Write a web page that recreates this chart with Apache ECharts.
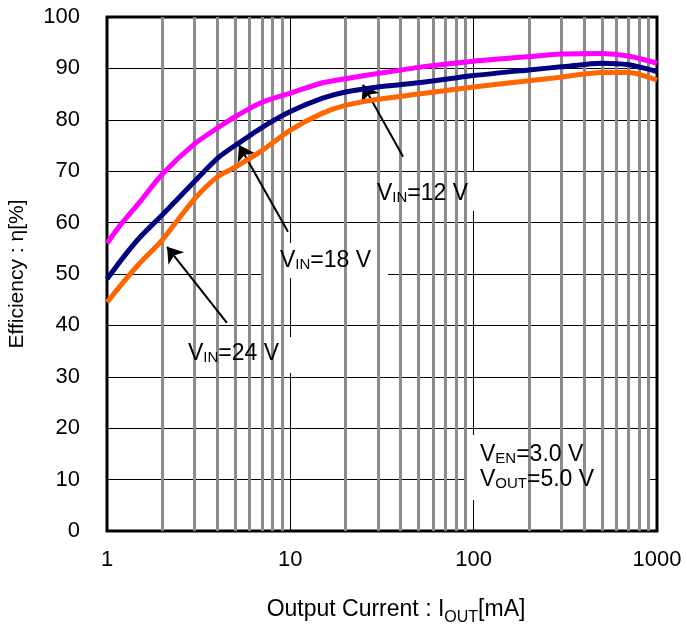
<!DOCTYPE html>
<html lang="en">
<head>
    <meta charset="UTF-8">
    <title>Efficiency vs Output Current</title>
    <script src="https://cdn.jsdelivr.net/npm/echarts@6/dist/echarts.min.js"></script>
    <style>
        html, body { margin: 0; padding: 0; background: #fff; }
    </style>
</head>
<body>
    <div id="main" style="width:687px; height:632px"></div>
    <script type="text/javascript">
        // output current [mA]
        var current = [1, 1.2, 1.5, 2, 3, 4, 5, 7, 10, 15, 20, 30, 50, 100, 200, 300, 500, 700, 1000];
        // efficiency [%]
        var eff12 = [56, 59.8, 63.9, 69.4, 75.3, 78.4, 80.6, 83.4, 85.2, 87.2, 88.0, 89.0, 90.2, 91.4, 92.3, 92.8, 92.9, 92.4, 91.0];
        var eff18 = [49, 52.8, 57, 61.5, 68, 72.5, 75, 78.5, 81.6, 84.2, 85.4, 86.4, 87.2, 88.6, 89.7, 90.3, 91.0, 90.7, 89.4];
        var eff24 = [44.5, 48, 52, 56.6, 64.6, 68.9, 70.8, 74, 78, 81.3, 82.8, 84.0, 85.0, 86.4, 87.6, 88.3, 89.2, 89.2, 87.7];
        var minorGrid = [2, 3, 4, 5, 6, 7, 8, 9, 20, 30, 40, 50, 60, 70, 80, 90, 200, 300, 400, 500, 600, 700, 800, 900];
        var yTicks = [0, 10, 20, 30, 40, 50, 60, 70, 80, 90, 100];

        var font = "'Liberation Sans', Arial, sans-serif";

        function pairs(xs, ys) {
            var out = [];
            for (var i = 0; i < xs.length; i++) out.push([xs[i], ys[i]]);
            return out;
        }

        var chart = echarts.init(document.getElementById('main'));

        var subRich = {
            a: { fontSize: 23, fontFamily: font, color: '#000', verticalAlign: 'bottom', lineHeight: 24 },
            s: { fontSize: 15, fontFamily: font, color: '#000', verticalAlign: 'bottom', lineHeight: 20 }
        };

        // label box + text (pixel placement of the annotations)
        function note(x, y, w, h, lines) {
            var els = [{
                type: 'rect', z: 3, silent: true,
                shape: { x: x, y: y, width: w, height: h },
                style: { fill: '#fff' }
            }];
            for (var i = 0; i < lines.length; i++) {
                els.push({
                    type: 'text', z: 7, silent: true,
                    x: lines[i][0], y: lines[i][1],
                    style: { text: lines[i][2], rich: subRich, verticalAlign: 'middle' }
                });
            }
            return els;
        }

        var graphics = []
            .concat(note(368, 172, 110, 39, [[377, 193, '{a|V}{s|IN}{a|=12 V}']]))
            .concat(note(264, 243, 124, 35, [[280, 260, '{a|V}{s|IN}{a|=18 V}']]))
            .concat(note(176, 337, 122, 36, [[188, 353, '{a|V}{s|IN}{a|=24 V}']]))
            .concat(note(466, 435, 181, 65, [[480, 454, '{a|V}{s|EN}{a|=3.0 V}'], [480, 479, '{a|V}{s|OUT}{a|=5.0 V}']]));

        var option = {
            animation: false,
            backgroundColor: '#fff',
            grid: {
                left: 107, right: 30, top: 17, bottom: 101,
                outerBoundsMode: 'none',
                show: true, borderColor: '#000', borderWidth: 3, backgroundColor: '#fff'
            },
            xAxis: {
                type: 'log',
                logBase: 10,
                min: 1,
                max: 1000,
                name: '{a|Output Current : I}{s|OUT}{a|[mA]}',
                nameLocation: 'middle',
                nameGap: 67,
                nameTextStyle: {
                    padding: [0, 0, 0, 28],
                    rich: {
                        a: { fontSize: 23, fontFamily: font, color: '#000', verticalAlign: 'top', lineHeight: 28 },
                        s: { fontSize: 16, fontFamily: font, color: '#000', verticalAlign: 'bottom', lineHeight: 14 }
                    }
                },
                axisLine: { show: false },
                axisTick: { show: false },
                axisLabel: {
                    fontSize: 22, fontFamily: font, color: '#000', margin: 18,
                    formatter: function (v) { return String(v); }
                },
                splitLine: { show: true, lineStyle: { color: '#000', width: 1 } }
            },
            yAxis: {
                type: 'value',
                min: yTicks[0],
                max: yTicks[yTicks.length - 1],
                interval: 10,
                name: 'Efficiency : η[%]',
                nameLocation: 'middle',
                nameGap: 79,
                nameTextStyle: { fontSize: 21, fontFamily: font, color: '#000' },
                axisLine: { show: false },
                axisTick: { show: false },
                axisLabel: { fontSize: 22, fontFamily: font, color: '#000', margin: 27 },
                splitLine: { show: true, lineStyle: { color: '#000', width: 1 } }
            },
            graphic: graphics,
            series: [
                {
                    // minor (2..9) vertical grid lines
                    type: 'line', z: 1, data: [], silent: true,
                    markLine: {
                        silent: true, symbol: 'none', animation: false,
                        label: { show: false },
                        lineStyle: { color: '#8c8c8c', width: 3, type: 'solid' },
                        data: minorGrid.map(function (v) { return { xAxis: v }; })
                    }
                },
                {
                    name: 'VIN=24 V', type: 'line', z: 5, showSymbol: false, smooth: 0.25,
                    lineStyle: { color: '#ff6600', width: 5 },
                    data: pairs(current, eff24)
                },
                {
                    name: 'VIN=18 V', type: 'line', z: 5, showSymbol: false, smooth: 0.25,
                    lineStyle: { color: '#000080', width: 5 },
                    data: pairs(current, eff18)
                },
                {
                    name: 'VIN=12 V', type: 'line', z: 5, showSymbol: false, smooth: 0.25,
                    lineStyle: { color: '#ff00ff', width: 5 },
                    data: pairs(current, eff12)
                },
                {
                    // arrows pointing at the curves
                    type: 'line', z: 6, data: [], silent: true,
                    markLine: {
                        silent: true, animation: false,
                        symbol: ['none', 'arrow'], symbolSize: 15,
                        label: { show: false },
                        lineStyle: { color: '#000', width: 2, type: 'solid' },
                        data: [
                            [{ coord: [41.2, 72.8] }, { coord: [24.9, 86.8] }],
                            [{ coord: [9.71, 58.2] }, { coord: [5.25, 75.1] }],
                            [{ coord: [4.51, 40.5] }, { coord: [2.125, 55.3] }]
                        ]
                    }
                }
            ]
        };

        chart.setOption(option);
    </script>
</body>
</html>
